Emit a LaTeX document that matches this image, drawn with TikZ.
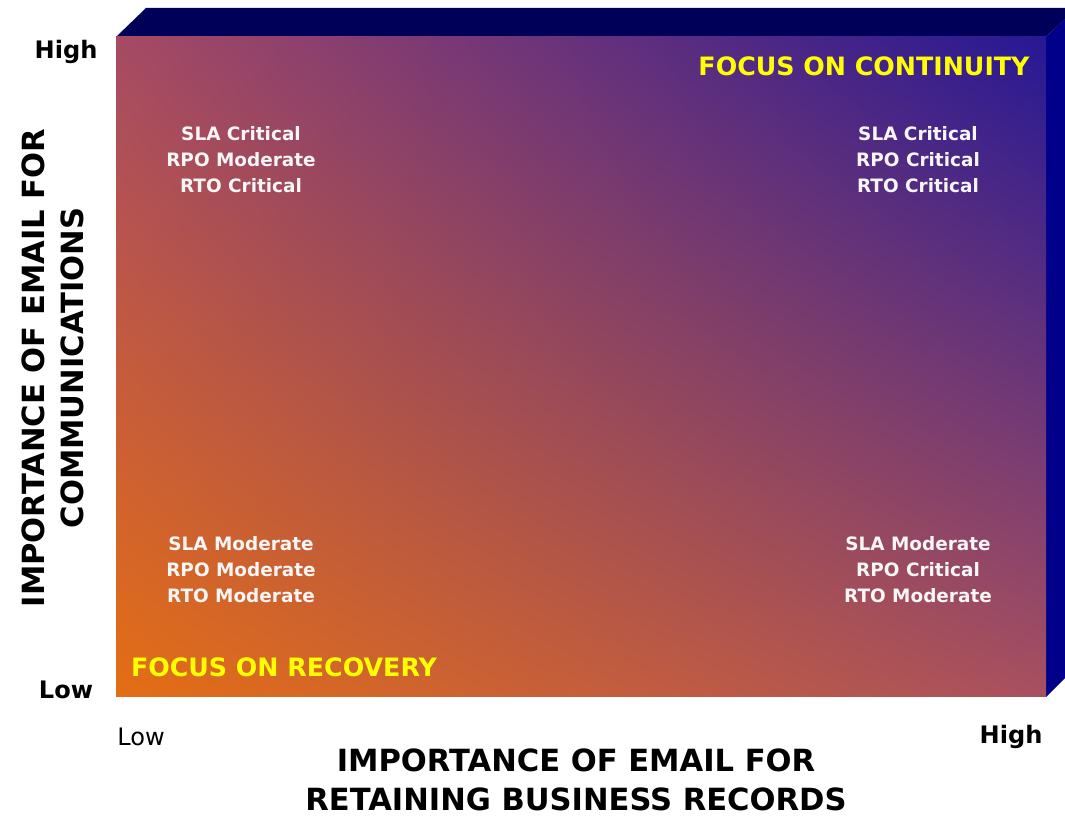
\documentclass[tikz,border=0pt]{standalone}
\usepackage{fontspec}
\setmainfont{DejaVu Sans}
\usetikzlibrary{shadings}

\definecolor{boxtop}{RGB}{0,0,88}
\definecolor{boxside}{RGB}{0,0,138}
\definecolor{cornerTL}{RGB}{166,74,100}
\definecolor{cornerTR}{RGB}{38,24,148}
\definecolor{cornerBL}{RGB}{228,110,20}
\definecolor{cornerBR}{RGB}{168,80,96}
\definecolor{focusyellow}{RGB}{255,255,0}

\begin{document}
\begin{tikzpicture}[x=0.02cm,y=0.02cm,
		axislabel/.style={font=\fontsize{13.7}{16}\selectfont\bfseries},
		axistitle/.style={font=\fontsize{17.4}{22.2}\selectfont\bfseries, align=center, inner sep=0pt},
		cell/.style={font=\fontsize{10.5}{14.8}\selectfont\bfseries, text=white!93!gray, align=center},
		focus/.style={font=\fontsize{14.4}{17}\selectfont\bfseries, text=focusyellow}]
		\useasboundingbox (0,0) rectangle (1065,817);
		\clip (0,0) rectangle (1065,817);

		%box
		\fill[boxtop] (116,780) -- (146,809) -- (1076,809) -- (1046,780) -- cycle;
		\fill[boxside] (1046,780) -- (1076,809) -- (1076,150) -- (1046,120) -- cycle;
		\shade[upper left=cornerTL, upper right=cornerTR, lower left=cornerBL, lower right=cornerBR]
			(116,120) rectangle (1046,780);

		%axes
		\node[axislabel] (yhigh) at (66,765) {High};
		\node[axislabel] (ylow) at (66,127) {Low};
		\node[axislabel, font=\fontsize{13.7}{16}\selectfont] (xlow) at (141,80) {Low};
		\node[axislabel] (xhigh) at (1011,80) {High};

		\node[axistitle] (xtitle) at (576,37) {IMPORTANCE OF EMAIL FOR\\RETAINING BUSINESS RECORDS};
		\node[axistitle, rotate=90] (ytitle) at (53,449) {IMPORTANCE OF EMAIL FOR\\COMMUNICATIONS};

		%quadrants
		\node[cell] (tl) at (241,657) {SLA Critical\\RPO Moderate\\RTO Critical};
		\node[cell] (tr) at (918,657) {SLA Critical\\RPO Critical\\RTO Critical};
		\node[cell] (bl) at (241,247) {SLA Moderate\\RPO Moderate\\RTO Moderate};
		\node[cell] (br) at (918,247) {SLA Moderate\\RPO Critical\\RTO Moderate};

		\node[focus] (continuity) at (864,751) {FOCUS ON CONTINUITY};
		\node[focus] (recovery) at (284,150) {FOCUS ON RECOVERY};

	\end{tikzpicture}
\end{document}
